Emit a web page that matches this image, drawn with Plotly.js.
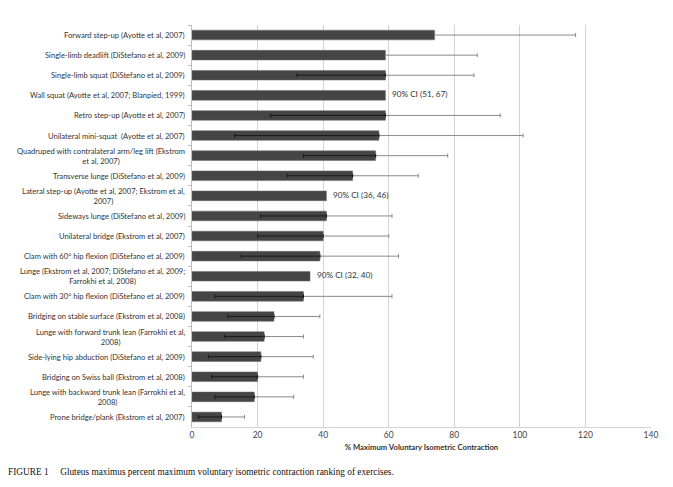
<!DOCTYPE html>
<html><head><meta charset="utf-8">
<script src="https://cdn.plot.ly/plotly-3.0.1.min.js"></script>
<style>body{margin:0;background:#fff}#chart{width:673px;height:487px}</style>
</head><body><div id="chart"></div>
<script>
var labels = [
 "Forward step-up (Ayotte et al, 2007)",
 "Single-limb deadlift (DiStefano et al, 2009)",
 "Single-limb squat (DiStefano et al, 2009)",
 "Wall squat (Ayotte et al, 2007; Blanpied, 1999)",
 "Retro step-up (Ayotte et al, 2007)",
 "Unilateral mini-squat  (Ayotte et al, 2007)",
 "Quadruped with contralateral arm/leg lift (Ekstrom<br>et al, 2007)",
 "Transverse lunge (DiStefano et al, 2009)",
 "Lateral step-up (Ayotte et al, 2007; Ekstrom et al,<br>2007)",
 "Sideways lunge (DiStefano et al, 2009)",
 "Unilateral bridge (Ekstrom et al, 2007)",
 "Clam with 60\u00b0 hip flexion (DiStefano et al, 2009)",
 "Lunge (Ekstrom et al, 2007; DiStefano et al, 2009;<br>Farrokhi et al, 2008)",
 "Clam with 30\u00b0 hip flexion (DiStefano et al, 2009)",
 "Bridging on stable surface (Ekstrom et al, 2008)",
 "Lunge with forward trunk lean (Farrokhi et al,<br>2008)",
 "Side-lying hip abduction (DiStefano et al, 2009)",
 "Bridging on Swiss ball (Ekstrom et al, 2008)",
 "Lunge with backward trunk lean (Farrokhi et al,<br>2008)",
 "Prone bridge/plank (Ekstrom et al, 2007)"
];
var mvic      = [74, 59, 59, 59, 59, 57, 56, 49, 41, 41, 40, 39, 36, 34, 25, 22, 21, 20, 19, 9];
var errPlus   = [43, 28, 27, null, 35, 44, 22, 20, null, 20, 20, 24, null, 27, 14, 12, 16, 14, 12, 7];
var errMinus  = [null, null, 27, null, 35, 44, 22, 20, null, 20, 20, 24, null, 27, 14, 12, 16, 14, 12, 7];
var ciLabels  = ["", "", "", "90% CI (51, 67)", "", "", "", "", "90% CI (36, 46)", "", "", "", "90% CI (32, 40)", "", "", "", "", "", "", ""];
var xTicks    = [0, 20, 40, 60, 80, 100, 120, 140];

var cats = labels.map(function(l, i){ return "c" + i; });
var nanify = function(v){ return v === null ? NaN : v; };
var FONT = "Lato, sans-serif";

var traces = [
 {type:"bar", orientation:"h", y:cats, x:mvic, marker:{color:"#454545", line:{color:"#6a6a6a", width:0.5}},
  hoverinfo:"x", showlegend:false},
 {type:"scatter", mode:"markers", y:cats, x:mvic, marker:{opacity:0, size:1}, showlegend:false, hoverinfo:"skip",
  error_x:{type:"data", symmetric:false, array:errPlus.map(nanify), arrayminus:errPlus.map(function(v){return v===null?NaN:0;}),
           color:"#8a8a8a", thickness:1, width:2}},
 {type:"scatter", mode:"markers", y:cats, x:mvic, marker:{opacity:0, size:1}, showlegend:false, hoverinfo:"skip",
  error_x:{type:"data", symmetric:false, array:errMinus.map(function(v){return v===null?NaN:0;}), arrayminus:errMinus.map(nanify),
           color:"#1a1a1a", thickness:1, width:2}}
];

var annotations = [];
labels.forEach(function(l, i){
  annotations.push({xref:"paper", yref:"y", x:0, y:cats[i], xanchor:"right", yanchor:"middle", xshift:-5,
    align:"center", showarrow:false, text:l,
    font:{family:FONT, size:7.6, color:"#333"}});
  if (ciLabels[i]) {
    annotations.push({xref:"x", yref:"y", x:mvic[i], y:cats[i], xanchor:"left", yanchor:"middle", xshift:5, yshift:1,
      showarrow:false, text:ciLabels[i], font:{family:FONT, size:8.2, color:"#333"}});
  }
});
annotations.push({xref:"paper", yref:"paper", x:-0.405, y:-0.112, xanchor:"left", yanchor:"middle", showarrow:false,
  text:"FIGURE 1\u2003 Gluteus maximus percent maximum voluntary isometric contraction ranking of exercises.",
  font:{family:"Liberation Serif, Times New Roman, serif", size:9.3, color:"#111"}});

var layout = {
  width:673, height:487,
  margin:{l:192, r:22, t:25, b:60},
  paper_bgcolor:"#fff", plot_bgcolor:"#fff",
  bargap:0.52,
  showlegend:false,
  xaxis:{range:[0,140], tickvals:xTicks, ticktext:xTicks.map(String), showgrid:true, gridcolor:"#d4d4d4", gridwidth:1,
         zeroline:false, showline:true, linecolor:"#d4d4d4", ticks:"", ticklen:0,
         tickfont:{family:FONT, size:8.5, color:"#444"},
         title:{text:"<b>% Maximum Voluntary Isometric Contraction</b>", standoff:5,
                font:{family:FONT, size:7.7, color:"#333"}}},
  yaxis:{type:"category", autorange:false, range:[19.5, -0.5], showticklabels:false, showgrid:false, zeroline:false,
         showline:true, linecolor:"#bdbdbd", ticks:"outside", ticklen:3, tickcolor:"#bdbdbd", tickson:"boundaries"},
  annotations:annotations
};
Plotly.newPlot("chart", traces, layout, {staticPlot:true, displayModeBar:false});
</script></body></html>
